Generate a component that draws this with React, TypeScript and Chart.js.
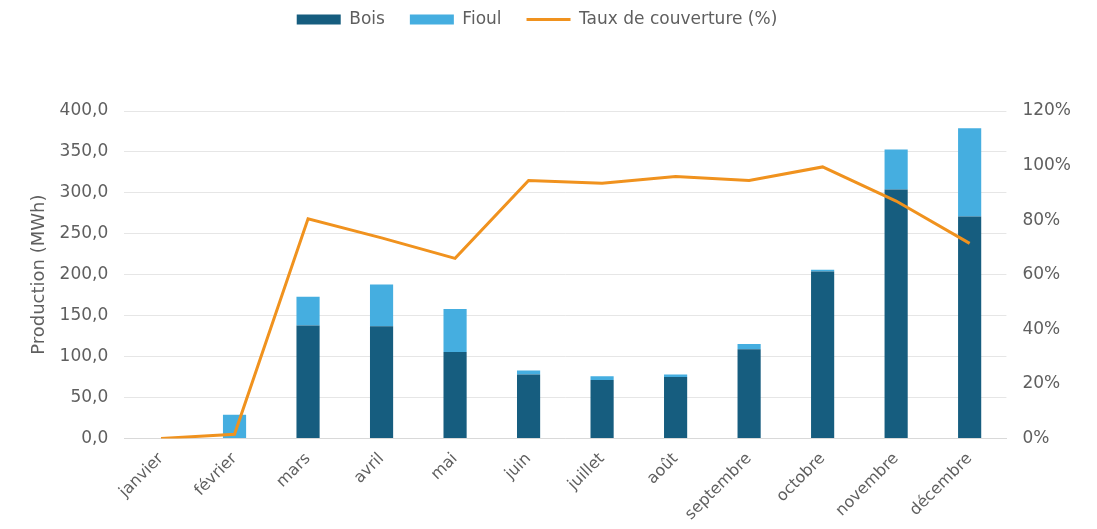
import React, { useEffect, useRef } from "react";
import { Chart, registerables } from "chart.js";

Chart.register(...registerables);

const categories = ["janvier", "février", "mars", "avril", "mai", "juin", "juillet", "août", "septembre", "octobre", "novembre", "décembre"];
const bois = [0, 0, 138, 137, 105.5, 78, 71.5, 75, 109, 204, 304, 271];
const fioul = [0, 29, 35, 51, 52.5, 5, 4.5, 3, 6.5, 2, 49, 108];
const taux = [0, 1.5, 80.5, 73.5, 66, 94.5, 93.5, 96, 94.5, 99.5, 87, 71.5];
const leftTicks = [0, 50, 100, 150, 200, 250, 300, 350, 400];
const rightTicks = [0, 20, 40, 60, 80, 100, 120];

const FONT = "'DejaVu Sans', 'Noto Sans', sans-serif";
const TEXT = "#5f5f5f";

export default function App() {
  const ref = useRef<HTMLCanvasElement | null>(null);
  useEffect(() => {
    if (!ref.current) return;
    const legendMargin = {
      id: "legendMargin",
      beforeInit(chart: any) {
        const orig = chart.legend.fit;
        chart.legend.fit = function () {
          orig.bind(chart.legend)();
          this.height += 73;
        };
      },
      afterLayout(chart: any) {
        chart.legend.left -= 19;
        chart.legend.right -= 19;
      },
    };
    const chart = new Chart(ref.current, {
      type: "bar",
      data: {
        labels: categories,
        datasets: [
          {
            type: "bar",
            label: "Bois",
            data: bois,
            backgroundColor: "#165d7f",
            borderColor: "#165d7f",
            stack: "s",
            yAxisID: "y",
            order: 2,
            pointStyle: "rect",
            barPercentage: 0.63,
            categoryPercentage: 0.5,
          } as any,
          {
            type: "bar",
            label: "Fioul",
            data: fioul,
            backgroundColor: "#45aee0",
            borderColor: "#45aee0",
            stack: "s",
            yAxisID: "y",
            order: 2,
            pointStyle: "rect",
            barPercentage: 0.63,
            categoryPercentage: 0.5,
          } as any,
          {
            type: "line",
            label: "Taux de couverture (%)",
            data: taux,
            borderColor: "#f0921e",
            backgroundColor: "#f0921e",
            borderWidth: 3,
            pointRadius: 0,
            pointStyle: "line",
            tension: 0,
            yAxisID: "y1",
            order: 1,
          } as any,
        ],
      },
      options: {
        animation: false,
        responsive: false,
        maintainAspectRatio: false,
        layout: { padding: { left: 25, right: 10, top: -14, bottom: 2 } },
        plugins: {
          tooltip: { enabled: false },
          legend: {
            position: "top",
            labels: {
              usePointStyle: true,
              pointStyleWidth: 44,
              boxHeight: 10,
              padding: 25,
              color: TEXT,
              font: { family: FONT, size: 17 },
              sort: (a: any, b: any) => a.datasetIndex - b.datasetIndex,
            },
          },
        },
        scales: {
          x: {
            grid: { display: false },
            border: { display: true, color: "#d9d9d9" },
            ticks: {
              color: TEXT,
              font: { family: FONT, size: 16 },
              maxRotation: 45,
              minRotation: 45,
              autoSkip: false,
            },
          },
          y: {
            position: "left",
            min: 0,
            max: 400,
            afterBuildTicks: (axis: any) => {
              axis.ticks = leftTicks.map((v) => ({ value: v }));
            },
            grid: { color: "#e6e6e6", drawTicks: false },
            border: { display: false },
            ticks: {
              color: TEXT,
              padding: 16,
              font: { family: FONT, size: 17 },
              callback: (v: any) => Number(v).toFixed(1).replace(".", ","),
            },
            title: {
              display: true,
              text: "Production (MWh)",
              color: TEXT,
              font: { family: FONT, size: 18 },
              padding: { top: 4, bottom: -7 },
            },
          },
          y1: {
            position: "right",
            min: 0,
            max: 120,
            afterBuildTicks: (axis: any) => {
              axis.ticks = rightTicks.map((v) => ({ value: v }));
            },
            grid: { display: false, drawTicks: false },
            border: { display: false },
            ticks: {
              color: TEXT,
              padding: 16,
              font: { family: FONT, size: 17 },
              callback: (v: any) => `${v}%`,
            },
          },
        },
      },
      plugins: [legendMargin],
    });
    return () => chart.destroy();
  }, []);
  return (
    <div style={{ position: "absolute", left: 0, top: 0, width: 1097, height: 529, background: "#fff" }}>
      <canvas ref={ref} width={1097} height={529} style={{ width: 1097, height: 529 }} />
    </div>
  );
}
